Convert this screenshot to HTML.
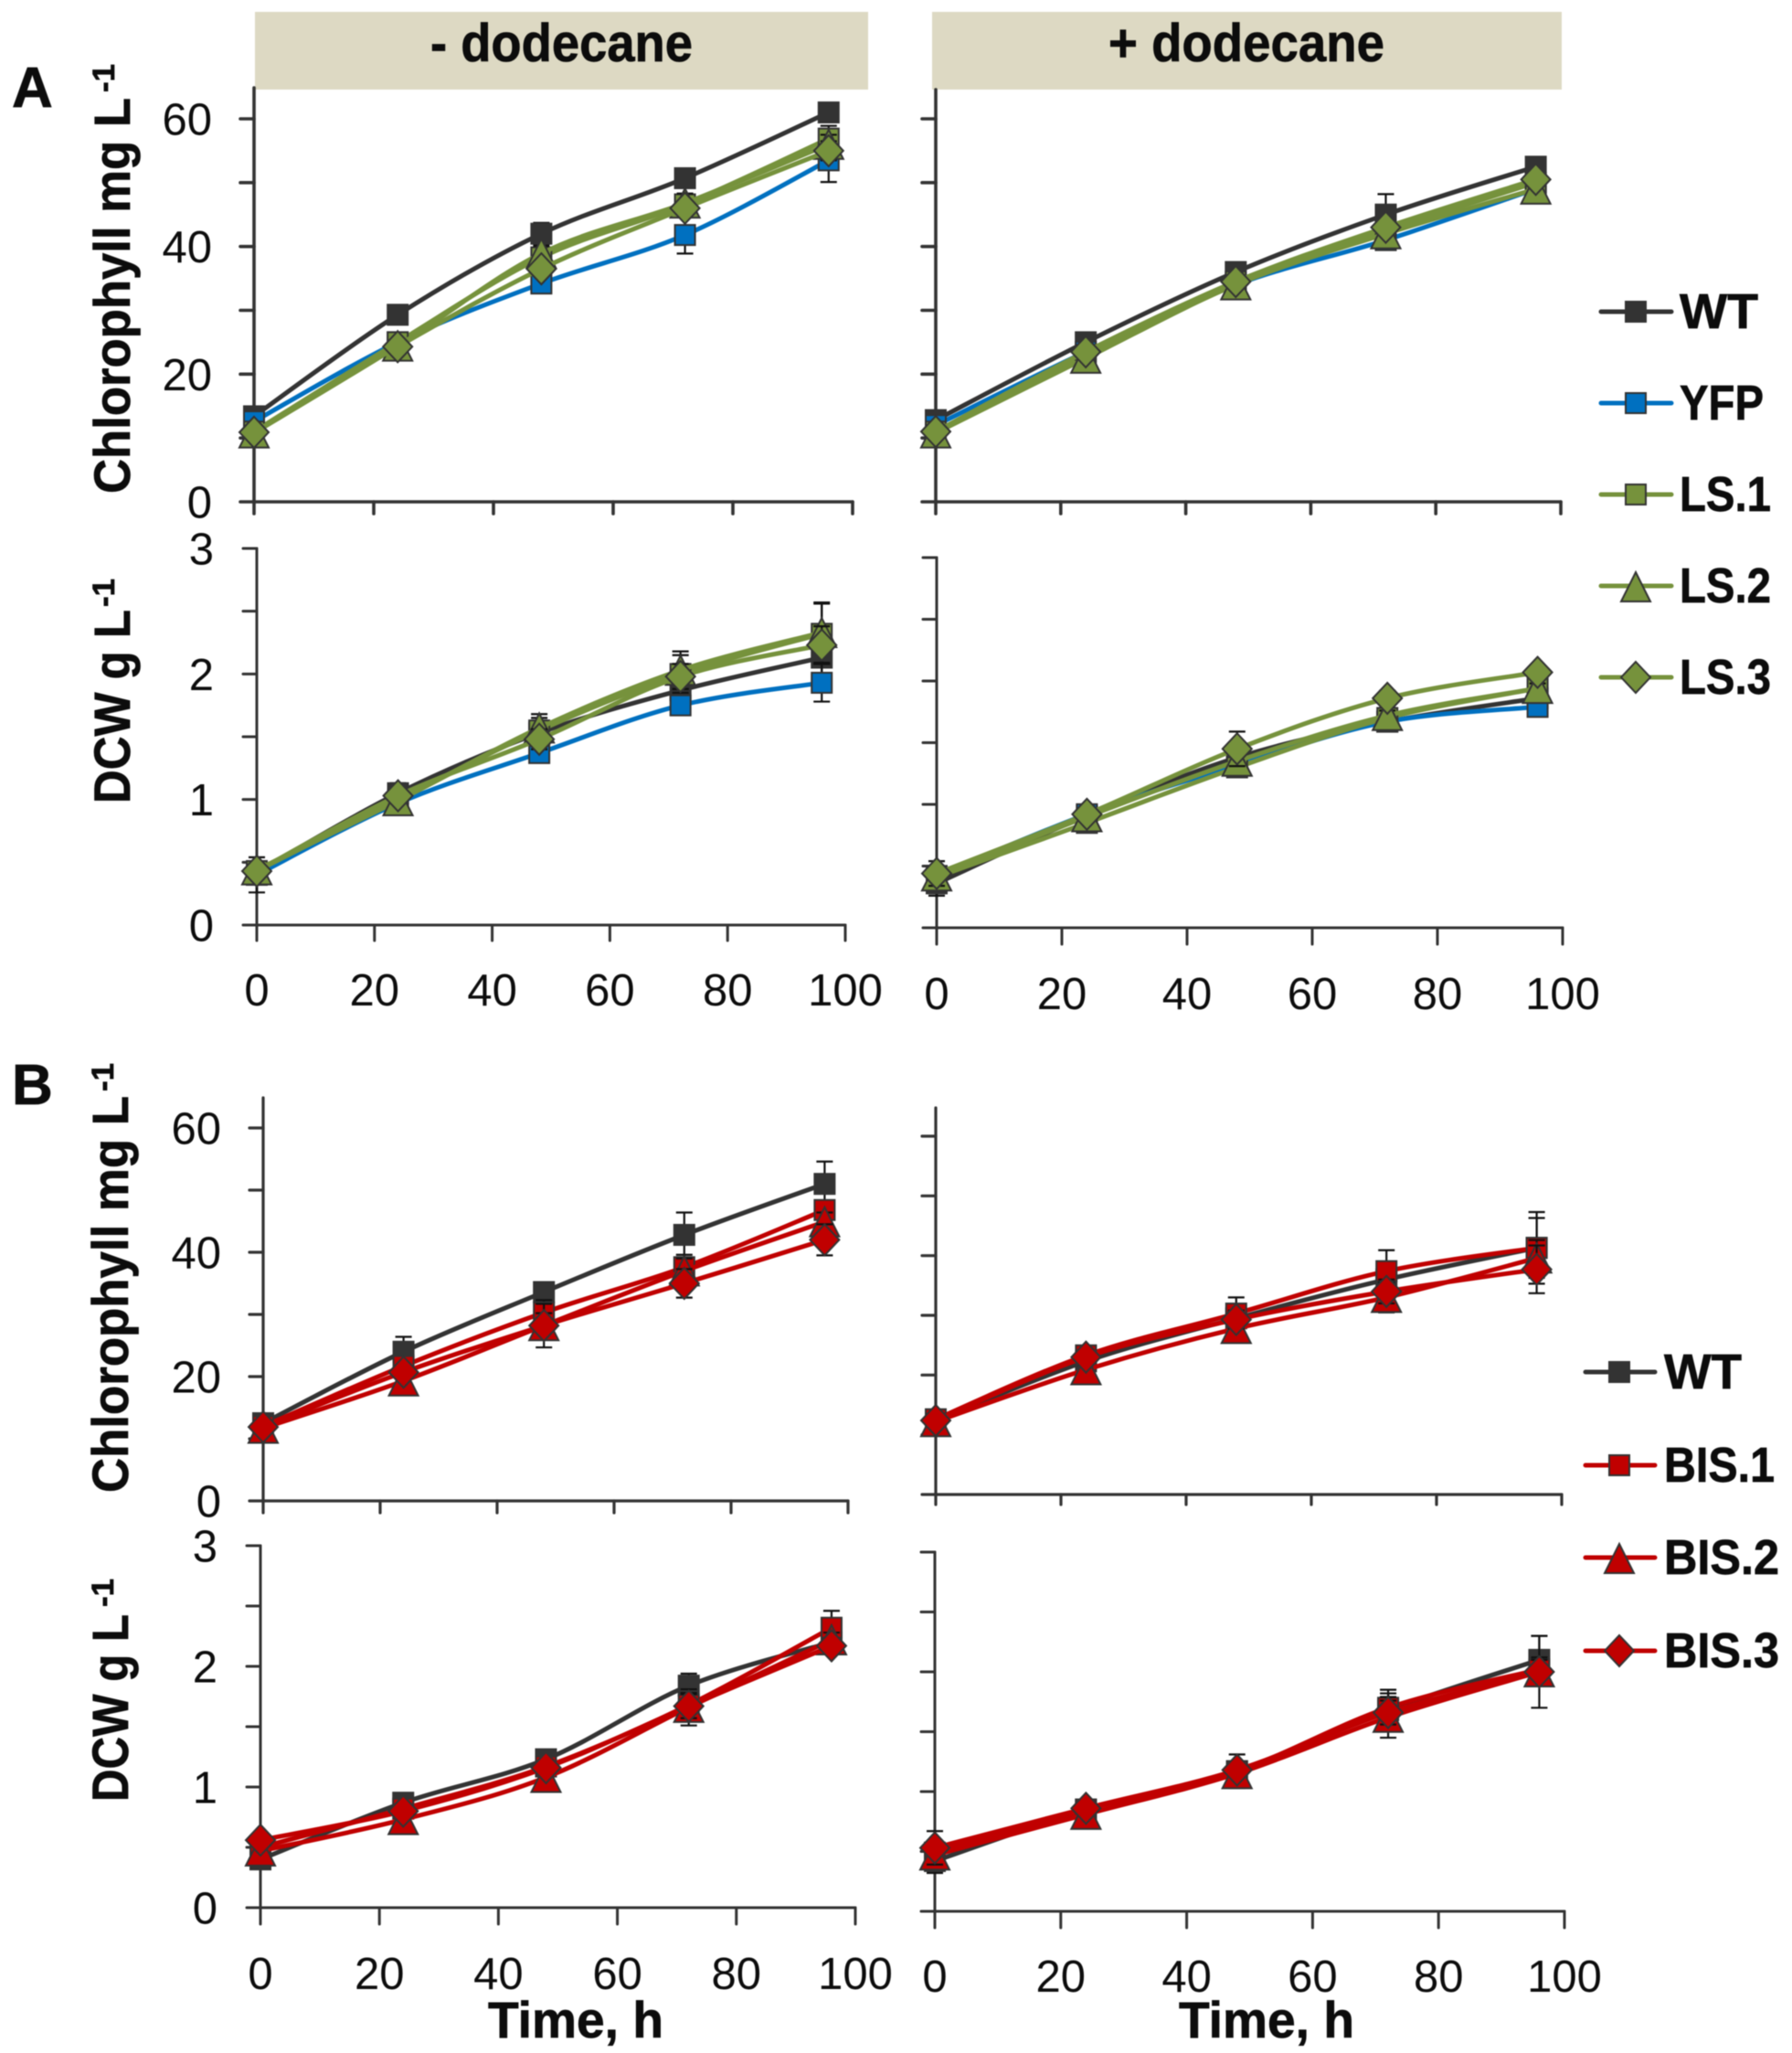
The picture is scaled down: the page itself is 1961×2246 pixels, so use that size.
<!DOCTYPE html>
<html lang="en">
<head>
<meta charset="utf-8">
<title>Chlorophyll and DCW growth curves</title>
<style>
html,body{margin:0;padding:0;background:#fff;width:1961px;height:2246px;overflow:hidden}
svg{display:block;filter:blur(.6px)}
text{font-family:"Liberation Sans",sans-serif;fill:#0c0c0c}
.b{font-weight:700;stroke:#0c0c0c;stroke-width:.7px}
.tick{font-size:49px}
</style>
</head>
<body>
<svg id="figure" xmlns="http://www.w3.org/2000/svg" width="1961" height="2246" viewBox="0 0 1961 2246">
  <rect width="1961" height="2246" fill="#fff"/>

  <rect x="279" y="13" width="671" height="85" fill="#ddd9c3"/>
  <rect x="1020" y="13" width="689" height="85" fill="#ddd9c3"/>
  <text class="b" x="471" y="67" font-size="58" textLength="287" lengthAdjust="spacingAndGlyphs">- dodecane</text>
  <text class="b" x="1213" y="67" font-size="58" textLength="302" lengthAdjust="spacingAndGlyphs">+ dodecane</text>

  <text class="b" x="13" y="117" font-size="62">A</text>
  <text class="b" x="13" y="1208" font-size="62">B</text>

  <text class="b" font-size="56" transform="translate(142,540) rotate(-90)" textLength="433" lengthAdjust="spacingAndGlyphs">Chlorophyll mg L</text>
  <text class="b" font-size="34" transform="translate(125,101) rotate(-90)" textLength="31" lengthAdjust="spacingAndGlyphs">-1</text>
  <text class="b" font-size="56" transform="translate(142,879) rotate(-90)" textLength="212" lengthAdjust="spacingAndGlyphs">DCW g L</text>
  <text class="b" font-size="34" transform="translate(125,664) rotate(-90)" textLength="31" lengthAdjust="spacingAndGlyphs">-1</text>
  <text class="b" font-size="56" transform="translate(140,1633) rotate(-90)" textLength="434" lengthAdjust="spacingAndGlyphs">Chlorophyll mg L</text>
  <text class="b" font-size="34" transform="translate(124,1194) rotate(-90)" textLength="31" lengthAdjust="spacingAndGlyphs">-1</text>
  <text class="b" font-size="56" transform="translate(140,1971) rotate(-90)" textLength="205" lengthAdjust="spacingAndGlyphs">DCW g L</text>
  <text class="b" font-size="34" transform="translate(124,1758) rotate(-90)" textLength="31" lengthAdjust="spacingAndGlyphs">-1</text>

  <text class="b" x="534" y="2229" font-size="56" textLength="192" lengthAdjust="spacingAndGlyphs">Time, h</text>
  <text class="b" x="1290" y="2229" font-size="56" textLength="192" lengthAdjust="spacingAndGlyphs">Time, h</text>

  <g id="panels"></g>

  <g stroke-linecap="round">
    <g>
      <line x1="1752" x2="1829" y1="341" y2="341" stroke="#333" stroke-width="5"/>
      <rect x="1779" y="330" width="22" height="22" fill="#333" stroke="#333" stroke-width="2"/>
      <text class="b" x="1838" y="359" font-size="54" textLength="86" lengthAdjust="spacingAndGlyphs">WT</text>
    </g>
    <g>
      <line x1="1752" x2="1829" y1="441" y2="441" stroke="#0070c0" stroke-width="5"/>
      <rect x="1779" y="430" width="22" height="22" fill="#0070c0" stroke="#333" stroke-width="2"/>
      <text class="b" x="1838" y="459" font-size="54" textLength="92" lengthAdjust="spacingAndGlyphs">YFP</text>
    </g>
    <g>
      <line x1="1752" x2="1829" y1="541" y2="541" stroke="#76923c" stroke-width="5"/>
      <rect x="1779" y="530" width="22" height="22" fill="#76923c" stroke="#333" stroke-width="2"/>
      <text class="b" x="1838" y="559" font-size="54" textLength="100" lengthAdjust="spacingAndGlyphs">LS.1</text>
    </g>
    <g>
      <line x1="1752" x2="1829" y1="641" y2="641" stroke="#76923c" stroke-width="5"/>
      <polygon points="1790,626 1806,658 1774,658" fill="#76923c" stroke="#333" stroke-width="2"/>
      <text class="b" x="1838" y="659" font-size="54" textLength="100" lengthAdjust="spacingAndGlyphs">LS.2</text>
    </g>
    <g>
      <line x1="1752" x2="1829" y1="741" y2="741" stroke="#76923c" stroke-width="5"/>
      <polygon points="1790,724 1806,741 1790,758 1774,741" fill="#76923c" stroke="#333" stroke-width="2"/>
      <text class="b" x="1838" y="759" font-size="54" textLength="100" lengthAdjust="spacingAndGlyphs">LS.3</text>
    </g>
  </g>

  <g stroke-linecap="round">
    <g>
      <line x1="1735" x2="1811" y1="1501" y2="1501" stroke="#333" stroke-width="5"/>
      <rect x="1761" y="1490" width="22" height="22" fill="#333" stroke="#333" stroke-width="2"/>
      <text class="b" x="1821" y="1519" font-size="54" textLength="85" lengthAdjust="spacingAndGlyphs">WT</text>
    </g>
    <g>
      <line x1="1735" x2="1811" y1="1603" y2="1603" stroke="#c00000" stroke-width="5"/>
      <rect x="1761" y="1592" width="22" height="22" fill="#c00000" stroke="#333" stroke-width="2"/>
      <text class="b" x="1821" y="1621" font-size="54" textLength="121" lengthAdjust="spacingAndGlyphs">BIS.1</text>
    </g>
    <g>
      <line x1="1735" x2="1811" y1="1704" y2="1704" stroke="#c00000" stroke-width="5"/>
      <polygon points="1772,1689 1788,1721 1756,1721" fill="#c00000" stroke="#333" stroke-width="2"/>
      <text class="b" x="1821" y="1722" font-size="54" textLength="126" lengthAdjust="spacingAndGlyphs">BIS.2</text>
    </g>
    <g>
      <line x1="1735" x2="1811" y1="1806" y2="1806" stroke="#c00000" stroke-width="5"/>
      <polygon points="1772,1789 1788,1806 1772,1823 1756,1806" fill="#c00000" stroke="#333" stroke-width="2"/>
      <text class="b" x="1821" y="1824" font-size="54" textLength="126" lengthAdjust="spacingAndGlyphs">BIS.3</text>
    </g>
  </g>
</svg>

<script>
// ---------- Data ----------
const timeHours = [0, 24, 48, 72, 96];
const xTickLabels = [0, 20, 40, 60, 80, 100];
const chlTickLabels = [0, 20, 40, 60];
const dcwTickLabels = [0, 1, 2, 3];

// Panel A, - dodecane, chlorophyll
const aMinusChlWT  = [13.4, 29.3, 42.0, 50.7, 61.0];
const aMinusChlYFP = [12.6, 25.0, 34.2, 41.8, 53.5];
const aMinusChlLS1 = [11.0, 25.0, 38.3, 46.6, 56.9];
const aMinusChlLS2 = [10.8, 24.4, 38.9, 46.8, 56.0];
const aMinusChlLS3 = [10.9, 24.3, 36.5, 46.0, 55.0];
const aMinusChlErrWT  = [0.5, 0.8, 1.7, 1.0, 1.0];
const aMinusChlErrYFP = [0.5, 0.8, 1.2, 2.9, 3.4];
const aMinusChlErrLS1 = [0.5, 1.0, 1.5, 1.2, 2.0];
const aMinusChlErrLS2 = [0.5, 1.0, 1.2, 1.5, 1.5];
const aMinusChlErrLS3 = [0.5, 0.8, 1.0, 1.0, 1.5];

// Panel A, - dodecane, DCW
const aMinusDcwWT  = [0.42, 1.05, 1.53, 1.87, 2.13];
const aMinusDcwYFP = [0.40, 0.97, 1.37, 1.75, 1.93];
const aMinusDcwLS1 = [0.43, 1.00, 1.55, 2.00, 2.32];
const aMinusDcwLS2 = [0.44, 0.99, 1.57, 2.03, 2.33];
const aMinusDcwLS3 = [0.43, 1.03, 1.48, 1.98, 2.23];
const aMinusDcwErrWT  = [0.08, 0.08, 0.10, 0.12, 0.15];
const aMinusDcwErrYFP = [0.14, 0.05, 0.05, 0.06, 0.15];
const aMinusDcwErrLS1 = [0.05, 0.05, 0.10, 0.15, 0.24];
const aMinusDcwErrLS2 = [0.05, 0.05, 0.11, 0.15, 0.24];
const aMinusDcwErrLS3 = [0.05, 0.05, 0.08, 0.10, 0.15];

// Panel A, + dodecane, chlorophyll
const aPlusChlWT  = [12.8, 25.0, 36.0, 45.0, 52.5];
const aPlusChlYFP = [12.0, 23.5, 34.0, 41.0, 49.0];
const aPlusChlLS1 = [11.0, 23.0, 34.5, 42.5, 50.0];
const aPlusChlLS2 = [10.8, 22.5, 34.0, 42.0, 49.0];
const aPlusChlLS3 = [11.0, 23.5, 34.5, 43.0, 50.5];
const aPlusChlErrWT  = [0.5, 0.8, 1.0, 3.2, 1.0];
const aPlusChlErrYFP = [0.5, 0.6, 1.0, 1.0, 1.0];
const aPlusChlErrLS1 = [0.5, 0.8, 1.2, 1.0, 1.0];
const aPlusChlErrLS2 = [0.5, 0.8, 1.5, 1.5, 1.5];
const aPlusChlErrLS3 = [0.5, 0.6, 1.0, 1.0, 1.0];

// Panel A, + dodecane, DCW
const aPlusDcwWT  = [0.36, 0.91, 1.38, 1.67, 1.86];
const aPlusDcwYFP = [0.42, 0.92, 1.32, 1.67, 1.79];
const aPlusDcwLS1 = [0.41, 0.85, 1.30, 1.70, 1.94];
const aPlusDcwLS2 = [0.42, 0.90, 1.35, 1.72, 1.94];
const aPlusDcwLS3 = [0.44, 0.92, 1.45, 1.86, 2.07];
const aPlusDcwErrWT  = [0.10, 0.03, 0.05, 0.04, 0.05];
const aPlusDcwErrYFP = [0.05, 0.03, 0.05, 0.04, 0.07];
const aPlusDcwErrLS1 = [0.05, 0.04, 0.06, 0.04, 0.04];
const aPlusDcwErrLS2 = [0.05, 0.04, 0.05, 0.04, 0.04];
const aPlusDcwErrLS3 = [0.10, 0.04, 0.14, 0.06, 0.05];

// Panel B, - dodecane, chlorophyll
const bMinusChlWT   = [12.5, 24.0, 33.6, 42.8, 51.0];
const bMinusChlBIS1 = [12.0, 21.7, 30.3, 37.6, 46.8];
const bMinusChlBIS2 = [11.7, 19.3, 28.2, 37.0, 44.9];
const bMinusChlBIS3 = [11.9, 20.7, 28.2, 35.0, 42.0];
const bMinusChlErrWT   = [1.0, 2.4, 1.5, 3.6, 3.6];
const bMinusChlErrBIS1 = [0.5, 1.0, 2.0, 2.0, 1.5];
const bMinusChlErrBIS2 = [0.5, 1.0, 2.0, 2.0, 1.5];
const bMinusChlErrBIS3 = [0.5, 1.0, 3.5, 2.3, 2.5];

// Panel B, - dodecane, DCW
const bMinusDcwWT   = [0.40, 0.87, 1.23, 1.84, 2.20];
const bMinusDcwBIS1 = [0.50, 0.82, 1.17, 1.68, 2.32];
const bMinusDcwBIS2 = [0.47, 0.73, 1.08, 1.66, 2.22];
const bMinusDcwBIS3 = [0.56, 0.80, 1.16, 1.67, 2.17];
const bMinusDcwErrWT   = [0.05, 0.04, 0.05, 0.10, 0.05];
const bMinusDcwErrBIS1 = [0.03, 0.04, 0.05, 0.10, 0.14];
const bMinusDcwErrBIS2 = [0.03, 0.04, 0.08, 0.15, 0.06];
const bMinusDcwErrBIS3 = [0.03, 0.04, 0.05, 0.10, 0.06];

// Panel B, + dodecane, chlorophyll
const bPlusChlWT   = [12.4, 22.3, 29.5, 36.0, 41.3];
const bPlusChlBIS1 = [12.6, 23.3, 30.3, 37.4, 41.3];
const bPlusChlBIS2 = [12.2, 20.9, 27.8, 33.0, 39.6];
const bPlusChlBIS3 = [12.4, 23.0, 29.3, 34.0, 37.7];
const bPlusChlErrWT   = [0.5, 0.8, 3.5, 2.0, 5.0];
const bPlusChlErrBIS1 = [0.5, 0.8, 1.5, 3.5, 6.0];
const bPlusChlErrBIS2 = [0.5, 0.8, 1.5, 2.5, 3.0];
const bPlusChlErrBIS3 = [0.5, 0.8, 1.5, 2.0, 4.0];

// Panel B, + dodecane, DCW
const bPlusDcwWT   = [0.42, 0.85, 1.17, 1.68, 2.10];
const bPlusDcwBIS1 = [0.49, 0.85, 1.17, 1.70, 2.02];
const bPlusDcwBIS2 = [0.47, 0.81, 1.15, 1.62, 2.00];
const bPlusDcwBIS3 = [0.53, 0.86, 1.18, 1.66, 2.00];
const bPlusDcwErrWT   = [0.10, 0.04, 0.14, 0.14, 0.20];
const bPlusDcwErrBIS1 = [0.05, 0.04, 0.06, 0.15, 0.10];
const bPlusDcwErrBIS2 = [0.05, 0.04, 0.06, 0.17, 0.10];
const bPlusDcwErrBIS3 = [0.14, 0.04, 0.06, 0.10, 0.30];

// ---------- Series styling ----------
const STYLES = {
  WT:   {color: '#333333', marker: 'square'},
  YFP:  {color: '#0070c0', marker: 'square'},
  LS1:  {color: '#76923c', marker: 'square'},
  LS2:  {color: '#76923c', marker: 'triangle'},
  LS3:  {color: '#76923c', marker: 'diamond'},
  BIS1: {color: '#c00000', marker: 'square'},
  BIS2: {color: '#c00000', marker: 'triangle'},
  BIS3: {color: '#c00000', marker: 'diamond'}
};

// ---------- Panels: frame geometry and their series ----------
const PANELS = [
  {x0:278,  x100:933,  y0:549,  yRef:130,  refVal:60, top:96,   step:10,  labels:chlTickLabels, unit:20, down:13, labelRight:232, axisW:3.6,
   series:[['WT',aMinusChlWT,aMinusChlErrWT],['YFP',aMinusChlYFP,aMinusChlErrYFP],['LS1',aMinusChlLS1,aMinusChlErrLS1],['LS2',aMinusChlLS2,aMinusChlErrLS2],['LS3',aMinusChlLS3,aMinusChlErrLS3]]},
  {x0:281,  x100:925,  y0:1012, yRef:600,  refVal:3,  top:600,  step:0.5, labels:dcwTickLabels, unit:1,  down:17, labelRight:234, xLabelBase:1100, axisW:3,
   series:[['WT',aMinusDcwWT,aMinusDcwErrWT],['YFP',aMinusDcwYFP,aMinusDcwErrYFP],['LS1',aMinusDcwLS1,aMinusDcwErrLS1],['LS2',aMinusDcwLS2,aMinusDcwErrLS2],['LS3',aMinusDcwLS3,aMinusDcwErrLS3]]},
  {x0:1024, x100:1708, y0:549,  yRef:130,  refVal:60, top:98,   step:10,  unit:20, down:13, axisW:3.6,
   series:[['WT',aPlusChlWT,aPlusChlErrWT],['YFP',aPlusChlYFP,aPlusChlErrYFP],['LS1',aPlusChlLS1,aPlusChlErrLS1],['LS2',aPlusChlLS2,aPlusChlErrLS2],['LS3',aPlusChlLS3,aPlusChlErrLS3]]},
  {x0:1025, x100:1710, y0:1015, yRef:610,  refVal:3,  top:610,  step:0.5, unit:1,  down:18, xLabelBase:1104, axisW:3,
   series:[['WT',aPlusDcwWT,aPlusDcwErrWT],['YFP',aPlusDcwYFP,aPlusDcwErrYFP],['LS1',aPlusDcwLS1,aPlusDcwErrLS1],['LS2',aPlusDcwLS2,aPlusDcwErrLS2],['LS3',aPlusDcwLS3,aPlusDcwErrLS3]]},
  {x0:288,  x100:928,  y0:1642, yRef:1234, refVal:60, top:1201, step:10,  labels:chlTickLabels, unit:20, down:13, labelRight:242, axisW:3.2,
   series:[['WT',bMinusChlWT,bMinusChlErrWT],['BIS1',bMinusChlBIS1,bMinusChlErrBIS1],['BIS2',bMinusChlBIS2,bMinusChlErrBIS2],['BIS3',bMinusChlBIS3,bMinusChlErrBIS3]]},
  {x0:285,  x100:936,  y0:2087, yRef:1691, refVal:3,  top:1691, step:0.5, labels:dcwTickLabels, unit:1,  down:18, labelRight:238, xLabelBase:2176, axisW:3,
   series:[['WT',bMinusDcwWT,bMinusDcwErrWT],['BIS1',bMinusDcwBIS1,bMinusDcwErrBIS1],['BIS2',bMinusDcwBIS2,bMinusDcwErrBIS2],['BIS3',bMinusDcwBIS3,bMinusDcwErrBIS3]]},
  {x0:1024, x100:1709, y0:1635, yRef:1243, refVal:60, top:1212, step:10,  unit:20, down:11, axisW:3.2,
   series:[['WT',bPlusChlWT,bPlusChlErrWT],['BIS1',bPlusChlBIS1,bPlusChlErrBIS1],['BIS2',bPlusChlBIS2,bPlusChlErrBIS2],['BIS3',bPlusChlBIS3,bPlusChlErrBIS3]]},
  {x0:1023, x100:1712, y0:2091, yRef:1698, refVal:3,  top:1698, step:0.5, unit:1,  down:18, xLabelBase:2179, axisW:3,
   series:[['WT',bPlusDcwWT,bPlusDcwErrWT],['BIS1',bPlusDcwBIS1,bPlusDcwErrBIS1],['BIS2',bPlusDcwBIS2,bPlusDcwErrBIS2],['BIS3',bPlusDcwBIS3,bPlusDcwErrBIS3]]}
];

// ---------- Drawing ----------
const NS = 'http://www.w3.org/2000/svg';
const root = document.getElementById('panels');

function make(tag, attrs, parent) {
  const node = document.createElementNS(NS, tag);
  for (const k in attrs) node.setAttribute(k, attrs[k]);
  parent.appendChild(node);
  return node;
}

function smoothPath(pts) {
  let d = 'M' + pts[0][0].toFixed(1) + ' ' + pts[0][1].toFixed(1);
  for (let i = 0; i < pts.length - 1; i++) {
    const p0 = pts[Math.max(i - 1, 0)], p1 = pts[i], p2 = pts[i + 1], p3 = pts[Math.min(i + 2, pts.length - 1)];
    const c1x = p1[0] + (p2[0] - p0[0]) / 6, c1y = p1[1] + (p2[1] - p0[1]) / 6;
    const c2x = p2[0] - (p3[0] - p1[0]) / 6, c2y = p2[1] - (p3[1] - p1[1]) / 6;
    d += 'C' + c1x.toFixed(1) + ' ' + c1y.toFixed(1) + ' ' + c2x.toFixed(1) + ' ' + c2y.toFixed(1) + ' ' + p2[0].toFixed(1) + ' ' + p2[1].toFixed(1);
  }
  return d;
}

function drawMarker(kind, x, y, color, parent) {
  let m;
  if (kind === 'square') {
    m = make('rect', {x: x - 11, y: y - 11, width: 22, height: 22, fill: color, stroke: '#333', 'stroke-width': 2}, parent);
  } else if (kind === 'triangle') {
    m = make('polygon', {points: x + ',' + (y - 16) + ' ' + (x + 16) + ',' + (y + 16) + ' ' + (x - 16) + ',' + (y + 16), fill: color, stroke: '#333', 'stroke-width': 2}, parent);
  } else {
    m = make('polygon', {points: x + ',' + (y - 17) + ' ' + (x + 16) + ',' + y + ' ' + x + ',' + (y + 17) + ' ' + (x - 16) + ',' + y, fill: color, stroke: '#333', 'stroke-width': 2}, parent);
  }
  
  
}

PANELS.forEach(function (p) {
  const xScale = function (v) { return p.x0 + (v / 100) * (p.x100 - p.x0); };
  const yScale = function (v) { return p.y0 - (v / p.refVal) * (p.y0 - p.yRef); };

  const panel = make('g', {}, root);
  
  

  const axes = make('g', {stroke: '#333', 'stroke-width': p.axisW, 'stroke-linecap': 'round', fill: 'none'}, panel);
  
  

  const yAxis = make('line', {x1: p.x0, x2: p.x0, y1: p.top, y2: p.y0 + p.down}, axes);
  
  

  const xAxis = make('line', {x1: p.x0 - 15, x2: p.x100, y1: p.y0, y2: p.y0}, axes);
  
  

  for (let v = p.step; v <= p.refVal + 1e-6; v += p.step) {
    const t = make('line', {x1: p.x0 - 15, x2: p.x0, y1: yScale(v), y2: yScale(v)}, axes);
    
    
  }
  xTickLabels.forEach(function (v) {
    if (v === 0) return;
    const t = make('line', {x1: xScale(v), x2: xScale(v), y1: p.y0, y2: p.y0 + p.down}, axes);
    
    
  });

  if (p.labels) {
    p.labels.forEach(function (v) {
      const t = make('text', {x: p.labelRight, y: yScale(v) + 17.5, 'text-anchor': 'end', class: 'tick'}, panel);
      t.textContent = String(v);
      
      
    });
  }
  if (p.xLabelBase) {
    xTickLabels.forEach(function (v) {
      const t = make('text', {x: xScale(v), y: p.xLabelBase, 'text-anchor': 'middle', class: 'tick'}, panel);
      t.textContent = String(v);
      
      
    });
  }

  p.series.forEach(function (s) {
    const style = STYLES[s[0]], vals = s[1], errs = s[2];
    const g = make('g', {}, panel);
    
    

    vals.forEach(function (v, i) {
      const x = xScale(timeHours[i]);
      const up = yScale(v + errs[i]), lo = yScale(v - errs[i]);
      const bar = make('path', {d: 'M' + x + ' ' + up + 'V' + lo + 'M' + (x - 9) + ' ' + up + 'H' + (x + 9) + 'M' + (x - 9) + ' ' + lo + 'H' + (x + 9), stroke: '#111', 'stroke-width': 2.2, fill: 'none'}, g);
      
      
    });

    const pts = vals.map(function (v, i) { return [xScale(timeHours[i]), yScale(v)]; });
    const line = make('path', {d: smoothPath(pts), fill: 'none', stroke: style.color, 'stroke-width': 5, 'stroke-linecap': 'round'}, g);
    
    

    pts.forEach(function (pt) { drawMarker(style.marker, pt[0], pt[1], style.color, g); });
  });
});
</script>
</body>
</html>
